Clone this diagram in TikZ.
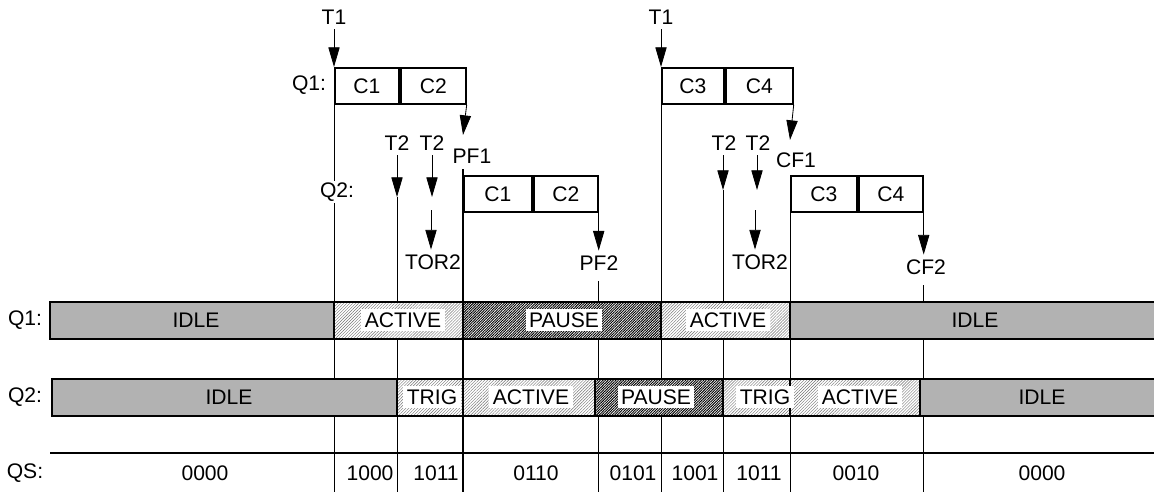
\documentclass[tikz,border=0pt]{standalone}
\usepackage{fontspec}
\setmainfont{Liberation Sans}
\usetikzlibrary{arrows.meta,patterns.meta}

\tikzset{
  sig/.style={-{Triangle[length=14pt,width=8pt]}, line width=0.6pt},
  guide/.style={line width=0.6pt},
  cell/.style={draw, line width=1.3pt, minimum height=0.9cm, inner sep=0pt},
  idleseg/.style={draw, line width=1.3pt, fill=black!30},
  actseg/.style={draw, line width=1.3pt, preaction={fill=white},
    pattern={Lines[angle=45,distance=1.5pt,line width=0.3pt]}, pattern color=black!55},
  pauseseg/.style={draw, line width=1.3pt, preaction={fill=white},
    pattern={Lines[angle=45,distance=1.3pt,line width=0.65pt]}, pattern color=black},
  tag/.style={fill=white, inner sep=2.5pt},
}

\begin{document}
\begin{tikzpicture}[x=0.025cm, y=-0.025cm, font=\fontsize{15}{17}\selectfont]
  \useasboundingbox (0,0) rectangle (1154,492);
  \coordinate (base) at (0,492);

  % first trigger: Q1 cells
  \node (t1a) at (334,17) {T1};
  \node[cell, minimum width=1.6cm, anchor=north west] (q1c1) at (334,67) {C1};
  \node[cell, minimum width=1.625cm, anchor=west] (q1c2) at (q1c1.east) {C2};
  \node (lq1a) at (309,85) {Q1:};
  \draw[sig] (t1a) -- (q1c1.north west);
  \draw[guide] (q1c1.south west) -- (q1c1.south west |- base);
  \coordinate (pf1tip) at (463,135);
  \draw[sig] (q1c2.south east) -- (pf1tip);
  \node (pf1) at (472,156) {PF1};

  % T2 triggers
  \node (t2a) at (397,143) {T2};
  \coordinate (t2atip) at (397,197);
  \draw[sig] (t2a) -- (t2atip);
  \draw[guide] (t2atip) -- (t2atip |- base);
  \node (t2b) at (432,143) {T2};
  \coordinate (t2btip) at (432,197);
  \draw[sig] (t2b) -- (t2btip);
  \node (tor2l) at (433,262) {TOR2};
  \coordinate (tor2a) at (431,210);
  \draw[sig] (tor2a) -- (tor2a |- tor2l.north);

  % Q2 cells
  \node[cell, minimum width=1.7cm, anchor=north west] (q2c1) at (463,175) {C1};
  \node[cell, minimum width=1.6cm, anchor=west] (q2c2) at (q2c1.east) {C2};
  \node[fill=white, inner sep=1pt] (lq2a) at (337,192) {Q2:};
  \draw[line width=1.3pt] ([yshift=4pt]q2c1.north west) -- (q2c1.north west |- base);
  \node (pf2) at (599,263) {PF2};
  \draw[sig] (q2c2.south east) -- (q2c2.south east |- pf2.north);
  \draw[guide] ([yshift=-4pt]q2c2.south east |- pf2.south) -- (q2c2.south east |- base);

  % second trigger: Q1 cells
  \node (t1b) at (661,17) {T1};
  \node[cell, minimum width=1.55cm, anchor=north west] (q1c3) at (661,67) {C3};
  \node[cell, minimum width=1.675cm, anchor=west] (q1c4) at (q1c3.east) {C4};
  \draw[sig] (t1b) -- (q1c3.north west);
  \draw[guide] (q1c3.south west) -- (q1c3.south west |- base);
  \coordinate (cf1tip) at (790,140);
  \draw[sig] (q1c4.south east) -- (cf1tip);
  \node (cf1) at (796,160) {CF1};

  \node (t2c) at (724,143) {T2};
  \coordinate (t2ctip) at (723,190);
  \draw[sig] (t2c.south -| t2ctip) -- (t2ctip);
  \draw[guide] (t2ctip) -- (t2ctip |- base);
  \node (t2d) at (758,143) {T2};
  \coordinate (t2dtip) at (757,190);
  \draw[sig] (t2d.south -| t2dtip) -- (t2dtip);
  \node (tor2r) at (760,262) {TOR2};
  \coordinate (tor2b) at (755,210);
  \draw[sig] (tor2b) -- (tor2b |- tor2r.north);

  \node[cell, minimum width=1.65cm, anchor=north west] (q2c3) at (790,175) {C3};
  \node[cell, minimum width=1.6cm, anchor=west] (q2c4) at (q2c3.east) {C4};
  \draw[guide] (q2c3.south west) -- (q2c3.south west |- base);
  \node (cf2) at (926,267) {CF2};
  \draw[sig] (q2c4.south east) -- (q2c4.south east |- cf2.north);
  \draw[guide] ([yshift=-4pt]q2c4.south east |- cf2.south) -- (q2c4.south east |- base);

  % state bars
  \node (rq1) at (25,320) {Q1:};
  \node (rq2) at (25,397) {Q2:};
  \node (rqs) at (25,473) {QS:};

  \foreach \a/\b in {50/334, 790/1160}
    \draw[idleseg] (\a,302) rectangle (\b,339);
  \foreach \a/\b in {334/463, 661/790}
    \draw[actseg] (\a,302) rectangle (\b,339);
  \draw[pauseseg] (463,302) rectangle (661,339);

  \foreach \a/\b in {52/397, 920/1160}
    \draw[idleseg] (\a,379) rectangle (\b,416);
  \foreach \a/\b in {397/463, 463/595, 723/790, 790/920}
    \draw[actseg] (\a,379) rectangle (\b,416);
  \draw[pauseseg] (595,379) rectangle (723,416);

  \draw[line width=1.3pt] (50,453) -- (1160,453);

  % bar labels
  \node (s1) at (196,320) {IDLE};
  \node[tag] (s2) at (403,320) {ACTIVE};
  \node[tag] (s3) at (564,320) {PAUSE};
  \node[tag] (s4) at (728,320) {ACTIVE};
  \node (s5) at (975,320) {IDLE};
  \node (s6) at (229,397) {IDLE};
  \node[tag] (s7) at (432,397) {TRIG};
  \node[tag] (s8) at (531,397) {ACTIVE};
  \node[tag] (s9) at (656,397) {PAUSE};
  \node[tag] (s10) at (765,397) {TRIG};
  \node[tag] (s11) at (860,397) {ACTIVE};
  \node (s12) at (1042,397) {IDLE};

  % QS values
  \foreach \x/\v in {205/0000, 370/1000, 436/1011, 536/0110, 633/0101,
                     695/1001, 759/1011, 856/0010, 1042/0000}
    \node (qs\x) at (\x,473) {\v};
\end{tikzpicture}
\end{document}
